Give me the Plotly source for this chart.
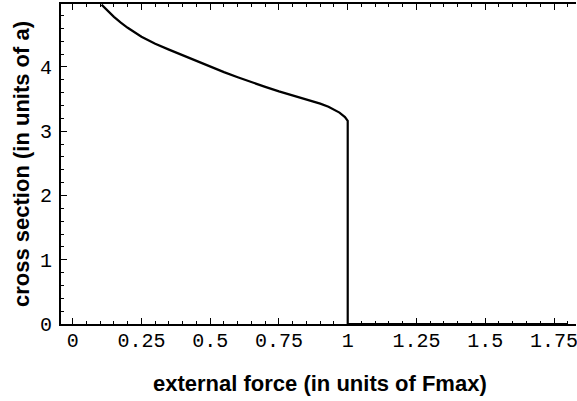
import plotly.graph_objects as go

# Data
force = [0.105, 0.13, 0.15, 0.175, 0.2, 0.25, 0.3, 0.35, 0.4, 0.45, 0.5, 0.55, 0.6, 0.65,
         0.7, 0.75, 0.8, 0.85, 0.9, 0.93, 0.95, 0.97, 0.99, 1.0, 1.0, 1.8]
cross = [4.97, 4.86, 4.78, 4.69, 4.61, 4.47, 4.36, 4.27, 4.18, 4.09, 4.00, 3.92, 3.84, 3.76,
         3.69, 3.62, 3.56, 3.50, 3.43, 3.38, 3.34, 3.29, 3.22, 3.16, 0.0, 0.0]
x_ticks = [0, 0.25, 0.5, 0.75, 1, 1.25, 1.5, 1.75]
x_tick_labels = ["0", "0.25", "0.5", "0.75", "1", "1.25", "1.5", "1.75"]
y_ticks = [0, 1, 2, 3, 4]
y_tick_labels = ["0", "1", "2", "3", "4"]

W, H = 577, 401
L, R, T, B = 61, 1, 4, 77
pw = W - L - R
ph = H - T - B

fig = go.Figure()
fig.add_trace(go.Scatter(x=force, y=cross, mode="lines",
                         line=dict(color="black", width=2.2),
                         showlegend=False, hoverinfo="skip"))

mono = dict(family="Liberation Mono, Courier New, monospace", size=20, color="black")
sans = dict(family="Liberation Sans, Arial, sans-serif", size=22, color="black")
fig.update_layout(
    width=W, height=H,
    margin=dict(l=L, r=R, t=T, b=B, autoexpand=False),
    paper_bgcolor="white", plot_bgcolor="white",
    xaxis=dict(range=[-0.0425, 1.83], tickvals=x_ticks, ticktext=x_tick_labels,
               ticks="inside", ticklen=6, tickwidth=1, tickcolor="black",
               minor=dict(dtick=0.05, ticks="inside", ticklen=3, tickcolor="black", showgrid=False),
               showline=True, linecolor="black", linewidth=2, mirror="ticks",
               showgrid=False, zeroline=False, tickfont=mono, ticklabelstandoff=-3,
               ticklabeloverflow="allow"),
    yaxis=dict(range=[0, 4.98], tickvals=y_ticks, ticktext=y_tick_labels,
               ticks="inside", ticklen=6, tickwidth=1, tickcolor="black",
               minor=dict(dtick=0.2, ticks="inside", ticklen=3, tickcolor="black", showgrid=False),
               showline=True, linecolor="black", linewidth=2,
               showgrid=False, zeroline=False, tickfont=mono, ticklabelstandoff=3,
               ticklabeloverflow="allow"),
    annotations=[
        dict(text="<b>external force (in units of Fmax)</b>",
             x=((153 + 487) / 2 - L) / pw, y=(H - B - 383) / ph,
             xanchor="center", yanchor="middle",
             xref="paper", yref="paper", showarrow=False, font=sans),
        dict(text="<b>cross section (in units of a)</b>",
             x=(21 - L) / pw, y=0.5, xanchor="center", yanchor="middle",
             xref="paper", yref="paper",
             showarrow=False, textangle=-90, font=sans),
    ],
)

fig.write_html("out.html", config={"displayModeBar": False},
               post_script="document.body.style.margin='0';document.body.style.overflow='hidden';")
